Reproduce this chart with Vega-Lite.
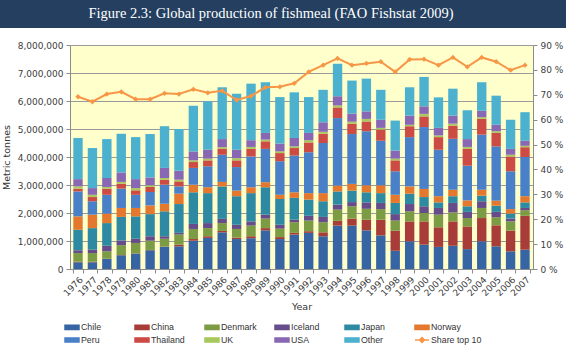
{
  "$schema": "https://vega.github.io/schema/vega-lite/v6.json",
  "padding": 0,
  "background": "white",
  "bounds": "full",
  "spacing": 11,
  "config": {
    "view": {"stroke": null},
    "font": "DejaVu Sans",
    "axis": {"labelFont": "DejaVu Sans", "titleFont": "DejaVu Sans", "labelFontSize": 9, "labelColor": "#404040", "titleFontSize": 9.5, "titleFontWeight": "normal", "titleColor": "#333333", "domainColor": "#8c8c8c", "tickColor": "#8c8c8c", "tickSize": 4},
    "legend": {"columnPadding": 0, "rowPadding": 1}
  },
  "vconcat": [
    {
      "width": 566,
      "height": 28,
      "view": {"fill": "#243F60", "stroke": null},
      "data": {"values": [{"t": "Figure 2.3: Global production of fishmeal (FAO Fishstat 2009)"}]},
      "mark": {"type": "text", "font": "Liberation Serif", "fontSize": 14.5, "color": "white", "dx": -12},
      "encoding": {"text": {"field": "t"}}
    },
    {
      "spacing": 0,
      "bounds": "full",
      "hconcat": [
        {
          "width": 1,
          "height": 1,
          "data": {"values": [{"t": ""}]},
          "mark": {"type": "text"},
          "encoding": {"text": {"field": "t"}}
        },
        {
          "width": 463,
          "height": 224,
          "view": {"fill": "#FFFFCC", "stroke": null},
          "data": {"values": [
            {"Year":"1976","Chile":240000,"China":20000,"Denmark":310000,"Iceland":100000,"Japan":730000,"Norway":480000,"Peru":890000,"Thailand":100000,"UK":80000,"USA":260000,"Other":1470000,"Share":69.2},
            {"Year":"1977","Chile":240000,"China":20000,"Denmark":310000,"Iceland":120000,"Japan":770000,"Norway":480000,"Peru":480000,"Thailand":150000,"UK":80000,"USA":240000,"Other":1430000,"Share":67.2},
            {"Year":"1978","Chile":360000,"China":10000,"Denmark":260000,"Iceland":200000,"Japan":810000,"Norway":340000,"Peru":670000,"Thailand":220000,"UK":60000,"USA":320000,"Other":1390000,"Share":70.3},
            {"Year":"1979","Chile":490000,"China":10000,"Denmark":350000,"Iceland":170000,"Japan":840000,"Norway":320000,"Peru":690000,"Thailand":180000,"UK":60000,"USA":340000,"Other":1380000,"Share":71.2},
            {"Year":"1980","Chile":550000,"China":10000,"Denmark":370000,"Iceland":150000,"Japan":800000,"Norway":300000,"Peru":470000,"Thailand":160000,"UK":80000,"USA":320000,"Other":1500000,"Share":68.2},
            {"Year":"1981","Chile":670000,"China":10000,"Denmark":330000,"Iceland":160000,"Japan":790000,"Norway":310000,"Peru":480000,"Thailand":180000,"UK":60000,"USA":280000,"Other":1550000,"Share":68.2},
            {"Year":"1982","Chile":790000,"China":10000,"Denmark":280000,"Iceland":90000,"Japan":890000,"Norway":270000,"Peru":680000,"Thailand":180000,"UK":60000,"USA":360000,"Other":1490000,"Share":70.6},
            {"Year":"1983","Chile":810000,"China":60000,"Denmark":360000,"Iceland":60000,"Japan":1030000,"Norway":370000,"Peru":260000,"Thailand":180000,"UK":60000,"USA":320000,"Other":1490000,"Share":70.3},
            {"Year":"1984","Chile":1010000,"China":60000,"Denmark":360000,"Iceland":180000,"Japan":1130000,"Norway":270000,"Peru":600000,"Thailand":210000,"UK":60000,"USA":320000,"Other":1630000,"Share":72.2},
            {"Year":"1985","Chile":1110000,"China":60000,"Denmark":290000,"Iceland":180000,"Japan":1070000,"Norway":210000,"Peru":750000,"Thailand":210000,"UK":60000,"USA":320000,"Other":1730000,"Share":70.8},
            {"Year":"1986","Chile":1310000,"China":50000,"Denmark":280000,"Iceland":150000,"Japan":1160000,"Norway":160000,"Peru":970000,"Thailand":220000,"UK":50000,"USA":290000,"Other":1850000,"Share":71.6},
            {"Year":"1987","Chile":1070000,"China":50000,"Denmark":310000,"Iceland":150000,"Japan":1020000,"Norway":200000,"Peru":840000,"Thailand":240000,"UK":80000,"USA":300000,"Other":2000000,"Share":67.9},
            {"Year":"1988","Chile":1100000,"China":70000,"Denmark":380000,"Iceland":150000,"Japan":1010000,"Norway":210000,"Peru":1100000,"Thailand":270000,"UK":70000,"USA":240000,"Other":2020000,"Share":69.5},
            {"Year":"1989","Chile":1380000,"China":80000,"Denmark":340000,"Iceland":140000,"Japan":980000,"Norway":180000,"Peru":1190000,"Thailand":270000,"UK":60000,"USA":240000,"Other":1810000,"Share":73.0},
            {"Year":"1990","Chile":1070000,"China":70000,"Denmark":300000,"Iceland":140000,"Japan":920000,"Norway":150000,"Peru":1200000,"Thailand":290000,"UK":60000,"USA":280000,"Other":1660000,"Share":73.2},
            {"Year":"1991","Chile":1230000,"China":60000,"Denmark":380000,"Iceland":90000,"Japan":780000,"Norway":200000,"Peru":1310000,"Thailand":270000,"UK":60000,"USA":300000,"Other":1630000,"Share":74.6},
            {"Year":"1992","Chile":1290000,"China":60000,"Denmark":380000,"Iceland":170000,"Japan":580000,"Norway":230000,"Peru":1460000,"Thailand":350000,"UK":80000,"USA":260000,"Other":1280000,"Share":79.2},
            {"Year":"1993","Chile":1170000,"China":140000,"Denmark":360000,"Iceland":190000,"Japan":560000,"Norway":290000,"Peru":1790000,"Thailand":330000,"UK":70000,"USA":340000,"Other":1160000,"Share":81.9},
            {"Year":"1994","Chile":1550000,"China":170000,"Denmark":400000,"Iceland":180000,"Japan":470000,"Norway":210000,"Peru":2410000,"Thailand":380000,"UK":70000,"USA":330000,"Other":1160000,"Share":84.6},
            {"Year":"1995","Chile":1550000,"China":250000,"Denmark":440000,"Iceland":150000,"Japan":410000,"Norway":240000,"Peru":1780000,"Thailand":370000,"UK":70000,"USA":290000,"Other":1180000,"Share":81.9},
            {"Year":"1996","Chile":1380000,"China":380000,"Denmark":390000,"Iceland":230000,"Japan":360000,"Norway":250000,"Peru":1930000,"Thailand":350000,"UK":90000,"USA":270000,"Other":1170000,"Share":82.6},
            {"Year":"1997","Chile":1200000,"China":560000,"Denmark":380000,"Iceland":220000,"Japan":350000,"Norway":280000,"Peru":1590000,"Thailand":400000,"UK":60000,"USA":290000,"Other":1070000,"Share":83.3},
            {"Year":"1998","Chile":650000,"China":720000,"Denmark":360000,"Iceland":230000,"Japan":400000,"Norway":290000,"Peru":840000,"Thailand":390000,"UK":60000,"USA":290000,"Other":1070000,"Share":79.2},
            {"Year":"1999","Chile":990000,"China":710000,"Denmark":360000,"Iceland":260000,"Japan":370000,"Norway":260000,"Peru":1760000,"Thailand":390000,"UK":50000,"USA":330000,"Other":1010000,"Share":84.2},
            {"Year":"2000","Chile":870000,"China":830000,"Denmark":300000,"Iceland":240000,"Japan":330000,"Norway":290000,"Peru":2210000,"Thailand":380000,"UK":90000,"USA":270000,"Other":1050000,"Share":84.3},
            {"Year":"2001","Chile":790000,"China":700000,"Denmark":450000,"Iceland":240000,"Japan":200000,"Norway":220000,"Peru":1660000,"Thailand":450000,"UK":60000,"USA":270000,"Other":1090000,"Share":81.9},
            {"Year":"2002","Chile":830000,"China":870000,"Denmark":320000,"Iceland":340000,"Japan":240000,"Norway":230000,"Peru":1820000,"Thailand":470000,"UK":70000,"USA":290000,"Other":960000,"Share":85.0},
            {"Year":"2003","Chile":710000,"China":810000,"Denmark":300000,"Iceland":220000,"Japan":200000,"Norway":210000,"Peru":1240000,"Thailand":600000,"UK":70000,"USA":280000,"Other":1030000,"Share":81.2},
            {"Year":"2004","Chile":990000,"China":830000,"Denmark":360000,"Iceland":240000,"Japan":200000,"Norway":210000,"Peru":1970000,"Thailand":560000,"UK":60000,"USA":230000,"Other":1020000,"Share":85.0},
            {"Year":"2005","Chile":810000,"China":750000,"Denmark":290000,"Iceland":190000,"Japan":220000,"Norway":180000,"Peru":1940000,"Thailand":480000,"UK":60000,"USA":230000,"Other":1040000,"Share":83.3},
            {"Year":"2006","Chile":630000,"China":740000,"Denmark":330000,"Iceland":100000,"Japan":180000,"Norway":160000,"Peru":1350000,"Thailand":530000,"UK":60000,"USA":210000,"Other":1040000,"Share":79.9},
            {"Year":"2007","Chile":690000,"China":1210000,"Denmark":200000,"Iceland":80000,"Japan":200000,"Norway":220000,"Peru":1400000,"Thailand":350000,"UK":50000,"USA":180000,"Other":1020000,"Share":81.9}
          ]},
          "layer": [
            {
              "transform": [
                {"fold": ["Chile","China","Denmark","Iceland","Japan","Norway","Peru","Thailand","UK","USA","Other"], "as": ["Country","Tonnes"]},
                {"calculate": "indexof(['Chile','China','Denmark','Iceland','Japan','Norway','Peru','Thailand','UK','USA','Other'], datum.Country)", "as": "StackOrder"}
              ],
              "mark": {"type": "bar"},
              "encoding": {
                "x": {"field": "Year", "type": "ordinal", "scale": {"paddingInner": 0.35, "paddingOuter": 0.23},
                      "axis": {"title": "Year", "labelAngle": -45, "tickBand": "extent", "titlePadding": 4, "grid": false}},
                "y": {"field": "Tonnes", "type": "quantitative", "stack": "zero", "scale": {"domain": [0, 8000000]},
                      "axis": {"title": "Metric tonnes", "values": [0,1000000,2000000,3000000,4000000,5000000,6000000,7000000,8000000], "format": ",.0f", "labelPadding": 3, "titlePadding": 6, "grid": true, "gridColor": "#9a9a9a", "gridWidth": 1}},
                "order": {"field": "StackOrder", "type": "quantitative", "sort": "ascending"},
                "color": {"field": "Country", "type": "nominal",
                          "scale": {"domain": ["Chile","China","Denmark","Iceland","Japan","Norway","Peru","Thailand","UK","USA","Other","Share top 10"],
                                    "range": ["#3765A4","#A83C38","#7B9B45","#674C8C","#2E8AA3","#E4782F","#4A80C8","#CC4B45","#A6C85E","#8868B4","#4CB1CF","#F79646"]},
                          "legend": {"orient": "none", "legendX": 68, "legendY": 321, "direction": "horizontal", "columns": 6, "gridAlign": "all",
                                     "title": null, "symbolType": "M-1.8,-0.42H1V0.42H-1.8Z", "symbolSize": 100, "symbolStrokeWidth": 0, "labelFont": "Liberation Sans", "labelFontSize": 8.8, "labelColor": "#333333", "labelOffset": 1, "columnPadding": 0, "rowPadding": 1,
                                     "encode": {"symbols": {"update": {
                                       "size": {"value": 100},
                                       "shape": {"signal": "datum.value === 'Share top 10' ? 'M-1.8,0H1M-0.4,-0.5L0.1,0L-0.4,0.5L-0.9,0Z' : 'M-1.8,-0.42H1V0.42H-1.8Z'"},
                                       "stroke": {"signal": "datum.value === 'Share top 10' ? '#F79646' : 'transparent'"},
                                       "strokeWidth": {"value": 1.5}}}}}}
              }
            },
            {
              "mark": {"type": "line", "strokeWidth": 2, "point": {"filled": true, "shape": "diamond", "size": 28}},
              "encoding": {
                "x": {"field": "Year", "type": "ordinal"},
                "y": {"field": "Share", "type": "quantitative", "scale": {"domain": [0, 90]},
                      "axis": {"orient": "right", "title": null, "values": [0,10,20,30,40,50,60,70,80,90], "labelExpr": "datum.value + ' %'", "grid": false, "labelPadding": 3}},
                "color": {"datum": "Share top 10"}
              }
            }
          ],
          "resolve": {"scale": {"y": "independent"}}
        }
      ]
    }
  ]
}
